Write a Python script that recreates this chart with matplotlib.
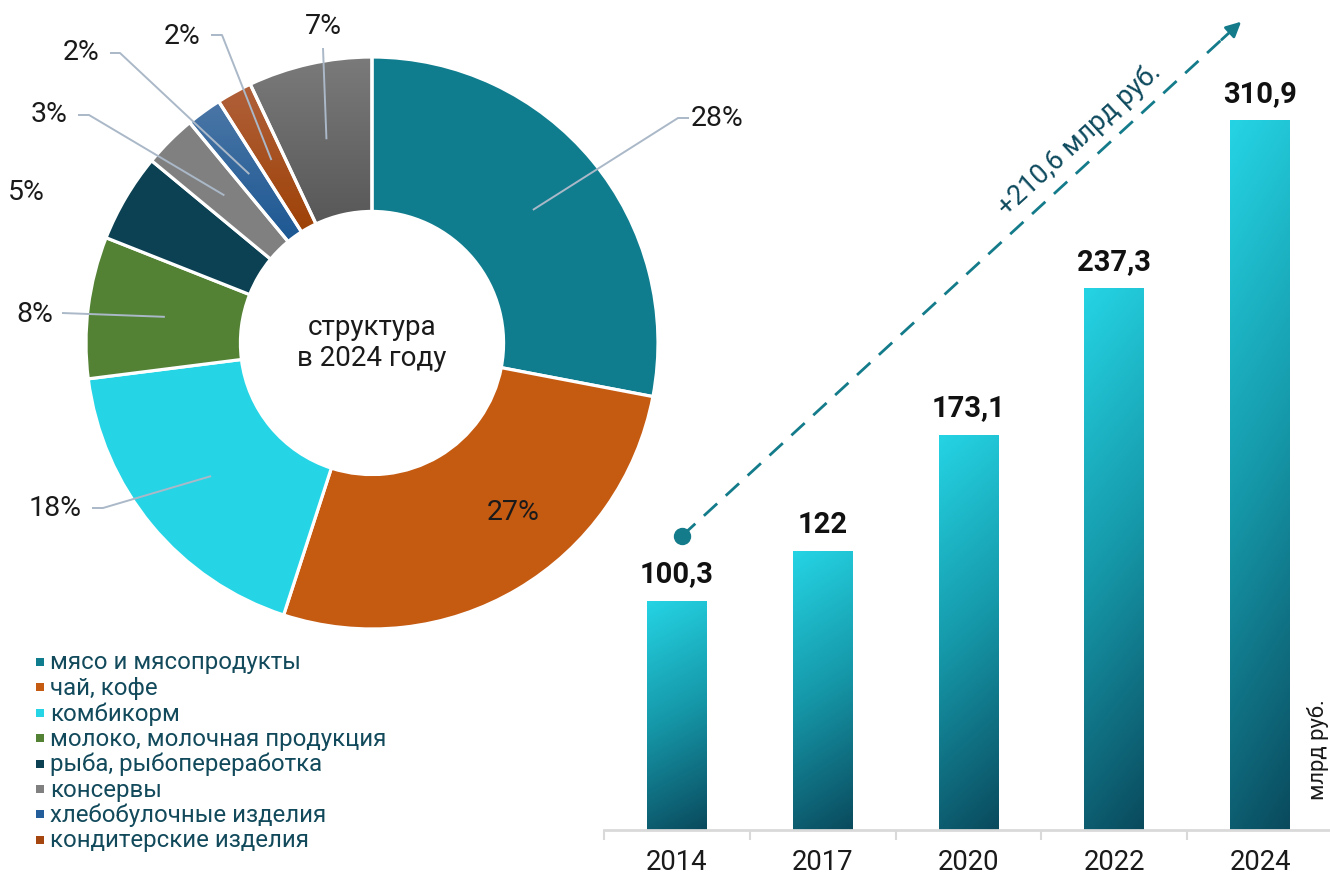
import numpy as np
import matplotlib
matplotlib.use("Agg")
import matplotlib.pyplot as plt
from matplotlib.colors import LinearSegmentedColormap
from matplotlib.patches import Rectangle

plt.rcParams['font.family'] = ['Roboto', 'DejaVu Sans']

# ---------------- data ----------------
categories = ['мясо и мясопродукты', 'чай, кофе', 'комбикорм',
              'молоко, молочная продукция', 'рыба, рыбопереработка',
              'консервы', 'хлебобулочные изделия', 'кондитерские изделия']
shares = [28, 27, 18, 8, 5, 3, 2, 2]
other_share = 7
center_text = 'структура\nв 2024 году'

years = ['2014', '2017', '2020', '2022', '2024']
values = [100.3, 122, 173.1, 237.3, 310.9]
growth_text = '+210,6 млрд руб.'
unit_text = 'млрд руб.'

# ---------------- styles ----------------
slice_colors = ['#0F7D8E', '#C55A11', '#25D5E6', '#548235', '#0B4152',
                '#808080', '#245E9A', '#A4460E', '#676767']
W, H = 1330, 875
fig = plt.figure(figsize=(W / 100, H / 100), dpi=100)

# ---------------- bars (drawn first, transparent background) ----------------
B0, B1, BASE, TOP = 604, 1333, 830, 8
axb = fig.add_axes([B0 / W, (H - BASE) / H, (B1 - B0) / W, (BASE - TOP) / H])
axb.patch.set_visible(False)

# ---------------- pie (donut) ----------------
CX, CY, R = 372, 343, 286
ax_l, ax_r, ax_t, ax_b = 0, 760, 0, 650
axp = fig.add_axes([ax_l / W, (H - ax_b) / H, (ax_r - ax_l) / W, (ax_b - ax_t) / H])
axp.patch.set_visible(False)
axp.axis('off')


def P(x, y):
    return ((x - CX) / R, (CY - y) / R)


def set_pie_lims():
    axp.set_xlim((ax_l - CX) / R, (ax_r - CX) / R)
    axp.set_ylim((CY - ax_b) / R, (CY - ax_t) / R)


pie_vals = shares + [other_share]
wedges, _ = axp.pie(pie_vals, colors=slice_colors, startangle=90, counterclock=False,
                    radius=1.0, wedgeprops=dict(width=0.54, edgecolor='white', linewidth=2.3),
                    frame=False)
axp.set_aspect('auto')
set_pie_lims()

# subtle vertical gradient on small wedges
grad_specs = {6: ('#4A76A6', '#1D5893'), 7: ('#B0603A', '#9E4207'), 8: ('#7A7A7A', '#585858')}
for idx, (c_top, c_bot) in grad_specs.items():
    w = wedges[idx]
    bb = w.get_path().get_extents()
    cm = LinearSegmentedColormap.from_list('g%d' % idx, [c_bot, c_top])
    g = np.linspace(0, 1, 64).reshape(-1, 1)
    im = axp.imshow(g, extent=[bb.x0, bb.x1, bb.y0, bb.y1], origin='lower',
                    cmap=cm, aspect='auto', zorder=w.get_zorder() - 0.1)
    im.set_clip_path(w)
    w.set_facecolor('none')
set_pie_lims()

axp.text(0, 0, center_text, ha='center', va='center', fontsize=20,
         color='#1a1a1a', linespacing=1.2)

# percent labels (pixel positions of label text & leader path)
label_specs = [
    dict(text_px=(691, 118), ha='left', leader=[(678, 118), (689, 118)]),
    dict(text_px=(513, 513), ha='center', leader=None),
    dict(text_px=(82, 508), ha='right', leader=[(103, 508), (92, 508)]),
    dict(text_px=(53, 314), ha='right', leader=[(62, 313)]),
    dict(text_px=(45, 193), ha='right', leader=None),
    dict(text_px=(68, 115), ha='right', leader=[(89, 115), (78, 115)]),
    dict(text_px=(100, 53), ha='right', leader=[(120, 53), (110, 53)]),
    dict(text_px=(201, 37), ha='right', leader=[(222, 35), (211, 35)]),
    dict(text_px=(323, 27), ha='center', leader=[(323, 48)]),
]
cum = 0.0
total = sum(pie_vals)
for v, spec in zip(pie_vals, label_specs):
    mid = np.deg2rad(90 - 360 * (cum + v / 2) / total)
    cum += v
    anchor = (0.73 * np.cos(mid), 0.73 * np.sin(mid))
    if spec['leader']:
        pts = [anchor] + [P(*p) for p in spec['leader']]
        xs, ys = zip(*pts)
        axp.plot(xs, ys, color='#AAB8C8', lw=1.4, solid_capstyle='butt', zorder=5,
                 clip_on=False)
    tx, ty = P(*spec['text_px'])
    axp.text(tx, ty, f'{v}%', ha=spec['ha'], va='center', fontsize=20.5,
             color='#1a1a1a', zorder=6)

# legend (manual)
leg_x, leg_y0, leg_dy = 40, 662, 25.4
for i, (cat, col) in enumerate(zip(categories, slice_colors)):
    y = leg_y0 + i * leg_dy
    fig.patches.append(Rectangle(((leg_x - 4) / W, 1 - (y + 4) / H), 8 / W, 8 / H,
                                 transform=fig.transFigure, facecolor=col,
                                 edgecolor='none'))
    fig.text((leg_x + 10) / W, 1 - (y + 1) / H, cat, ha='left', va='center',
             fontsize=17.3, color='#124A5C')

# ---------------- bars content ----------------
x = np.arange(len(years))
bars = axb.bar(x, values, width=0.41, color='none', edgecolor='none', zorder=2)
bar_cmap = LinearSegmentedColormap.from_list('bar', ['#0A4A5D', '#1597A8', '#25D4E4'])
for b in bars:
    x0, y0, bw, bh = b.get_x(), b.get_y(), b.get_width(), b.get_height()
    yy, xx = np.mgrid[0:1:200j, 0:1:40j]
    grad = 0.88 * yy + 0.12 * (1 - xx)
    im = axb.imshow(grad, extent=[x0, x0 + bw, y0, y0 + bh], origin='lower',
                    cmap=bar_cmap, vmin=0, vmax=1, aspect='auto', zorder=2)
    im.set_clip_path(b)
    axb.annotate(f'{b.get_height():g}'.replace('.', ','),
                 (x0 + bw / 2, y0 + bh), xytext=(0, 9), textcoords='offset points',
                 ha='center', va='bottom', fontsize=21, fontweight='bold', color='#111111')

axb.set_xlim(-0.5, len(years) - 0.5)
axb.set_ylim(0, 360)
for s in ['top', 'right', 'left']:
    axb.spines[s].set_visible(False)
axb.spines['bottom'].set_color('#D9D9D9')
axb.spines['bottom'].set_linewidth(2)
axb.set_yticks([])
axb.set_xticks(x)
axb.set_xticklabels(years, fontsize=19.8, color='#1a1a1a')
axb.tick_params(axis='x', which='major', length=0, pad=14)
axb.set_xticks(np.arange(-0.5, len(years), 1.0), minor=True)
axb.tick_params(axis='x', which='minor', length=7, width=1.5, color='#D9D9D9')

# growth arrow
start = (0.035, 128.8)
end = (3.87, 354)
frac = 0.965
mid_pt = (start[0] + (end[0] - start[0]) * frac, start[1] + (end[1] - start[1]) * frac)
axb.plot([start[0], mid_pt[0]], [start[1], mid_pt[1]], color='#137B8A', lw=2.0,
         dashes=(6.5, 4.2), zorder=3, clip_on=False)
axb.annotate('', xy=end, xytext=mid_pt,
             arrowprops=dict(arrowstyle='-|>,head_length=0.9,head_width=0.45',
                             color='#137B8A', lw=2.0, shrinkA=0, shrinkB=0),
             annotation_clip=False)
axb.plot([start[0]], [start[1]], 'o', ms=11.5, color='#137B8A', zorder=4, clip_on=False)

# growth text
axb.text(2.76, (830 - 140) / 2.283, growth_text, rotation=42.6, rotation_mode='anchor',
         ha='center', va='center', fontsize=19.4, color='#0E4A5E')
axb.text(4.4, 13, unit_text, rotation=90, ha='center', va='bottom', fontsize=15.8,
         color='#1a1a1a')

fig.savefig('out.png', dpi=100)
